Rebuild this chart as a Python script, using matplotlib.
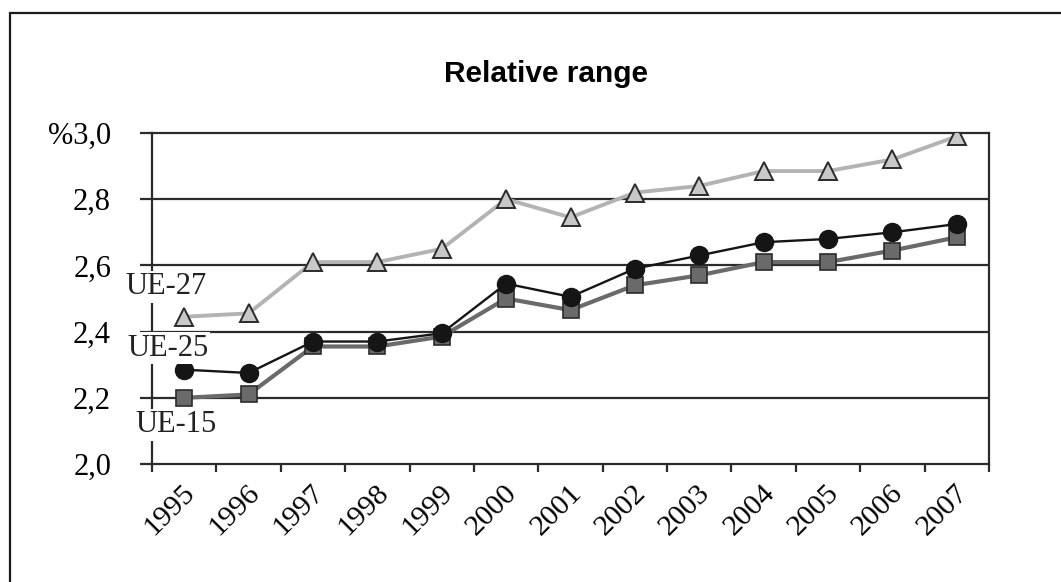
import matplotlib.pyplot as plt
import matplotlib.patches as patches
import matplotlib.transforms as mtransforms

years = ['1995', '1996', '1997', '1998', '1999', '2000', '2001',
         '2002', '2003', '2004', '2005', '2006', '2007']
ue27 = [2.445, 2.455, 2.61, 2.61, 2.65, 2.80, 2.745, 2.82, 2.84, 2.885, 2.885, 2.92, 2.99]
ue25 = [2.285, 2.275, 2.37, 2.37, 2.395, 2.545, 2.505, 2.59, 2.63, 2.67, 2.68, 2.70, 2.725]
ue15 = [2.20, 2.21, 2.355, 2.355, 2.385, 2.50, 2.465, 2.54, 2.57, 2.61, 2.61, 2.645, 2.685]
yticks = [2.0, 2.2, 2.4, 2.6, 2.8, 3.0]
ytick_labels = ['2,0', '2,2', '2,4', '2,6', '2,8', '%3,0']

W, H = 1061, 582
fig = plt.figure(figsize=(W / 100, H / 100), dpi=100)
ax = fig.add_axes([152 / W, 1 - 464 / H, (989 - 152) / W, (464 - 133) / H])

serif = 'Liberation Serif'
dark = '#2b2b2b'
x = list(range(len(years)))

for y in yticks[1:-1]:
    ax.axhline(y, color=dark, lw=1.6, zorder=1)

ax.plot(x, ue27, color='#b3b3b3', lw=2.8, marker='^', ms=12.5,
        mfc='#c8c8c8', mec='#2b2b2b', mew=1.4, zorder=3)
ax.plot(x, ue15, color='#6a6a6a', lw=3.0, marker='s', ms=11,
        mfc='#6a6a6a', mec='#2b2b2b', mew=1.2, zorder=3)
ax.plot(x, ue25, color='#151515', lw=1.7, marker='o', ms=13,
        mfc='#151515', mec='#151515', zorder=4)

ax.set_xlim(-0.5, len(years) - 0.5)
ax.set_ylim(2.0, 3.0)
ax.set_yticks(yticks, labels=ytick_labels, fontfamily=serif, fontsize=22)
ax.set_xticks(x, labels=years, fontfamily=serif, fontsize=21.5)
ax.set_xticks([i - 0.5 for i in range(len(years) + 1)], minor=True)
ax.tick_params(axis='y', direction='out', length=8.5, width=1.6, color=dark, pad=21)
ax.tick_params(axis='x', which='major', length=0, pad=18)
ax.tick_params(axis='x', which='minor', direction='out', length=6, width=1.6, color=dark)

offset = mtransforms.ScaledTranslation(5 / 72, 0, fig.dpi_scale_trans)
for lab in ax.get_xticklabels():
    lab.set_rotation(45)
    lab.set_ha('right')
    lab.set_va('center')
    lab.set_rotation_mode('anchor')
    lab.set_transform(lab.get_transform() + offset)

for s in ax.spines.values():
    s.set_color(dark)
    s.set_linewidth(1.6)

# series labels sit over the y axis on white boxes
box = dict(facecolor='white', edgecolor='none', pad=1)
ax.text(125 / W, 1 - 287 / H, 'UE-27', transform=fig.transFigure, fontfamily=serif,
        fontsize=22, ha='left', va='center', bbox=box, zorder=6, color='#222222')
ax.text(127 / W, 1 - 348 / H, 'UE-25', transform=fig.transFigure, fontfamily=serif,
        fontsize=22, ha='left', va='center', bbox=box, zorder=6, color='#222222')
ax.text(135 / W, 1 - 425 / H, 'UE-15', transform=fig.transFigure, fontfamily=serif,
        fontsize=22, ha='left', va='center', bbox=box, zorder=6, color='#222222')

fig.text(546 / W, 1 - 74 / H, 'Relative range', fontfamily='Liberation Sans',
         fontweight='bold', fontsize=21.5, ha='center', va='center')

frame = patches.Rectangle((10 / W, -0.1), 1.2, (H - 13) / H + 0.1, transform=fig.transFigure,
                          fill=False, edgecolor='#1a1a1a', lw=1.6, clip_on=False)
fig.patches.append(frame)

fig.savefig('out.png', dpi=100)
